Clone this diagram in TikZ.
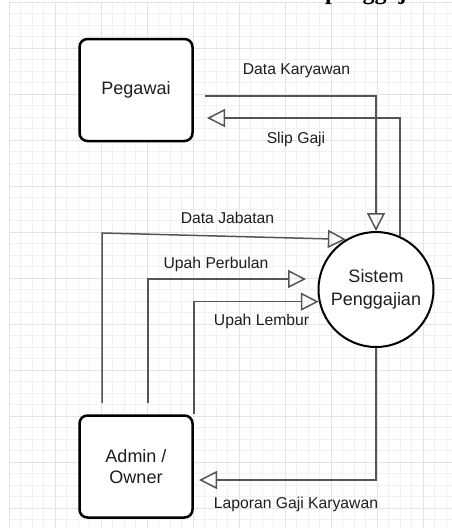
\documentclass[tikz,border=0pt]{standalone}
\usepackage{fontspec}
\setmainfont{Liberation Sans}
\newfontfamily\titlefont{Liberation Serif}
\usetikzlibrary{arrows.meta}
\definecolor{minorc}{HTML}{F1F1F1}
\definecolor{majorc}{HTML}{E3E3E3}
\definecolor{linec}{HTML}{555555}
\definecolor{txtc}{HTML}{1E1E1E}
\begin{document}
\begin{tikzpicture}[x=1pt,y=-1pt,
  minorline/.style={draw=minorc, line width=0.8pt},
  majorline/.style={draw=majorc, line width=1pt},
  entity/.style={draw=black, line width=2.5pt, rounded corners=8pt, fill=white,
    minimum width=113pt, minimum height=102pt, inner sep=0pt, align=center,
    text=txtc, font=\fontsize{18}{21.6}\selectfont},
  process/.style={circle, draw=black, line width=2pt, fill=white, minimum size=115pt,
    inner sep=0pt, align=center, text=txtc, font=\fontsize{18}{22.4}\selectfont},
  flow/.style={draw=linec, line width=1.5pt,
    -{Triangle[open, length=18pt, width=18pt, line width=1.5pt]}},
  plainflow/.style={draw=linec, line width=1.5pt},
  flowlabel/.style={anchor=base, inner sep=0pt, text=txtc, font=\fontsize{15.7}{18}\selectfont}
]
\useasboundingbox (0,0) rectangle (452,531);
\fill[white] (0,0) rectangle (452,531);
% grid
\foreach \i in {0,...,38} { \draw[minorline] ({9+11.5*\i},2) -- ({9+11.5*\i},528); }
\foreach \j in {0,...,45} { \draw[minorline] (9,{2+11.5*\j}) -- (452,{2+11.5*\j}); }
\foreach \i in {0,...,9} { \draw[majorline] ({9+46*\i},2) -- ({9+46*\i},528); }
\foreach \j in {0,...,11} { \draw[majorline] (9,{2+46*\j}) -- (452,{2+46*\j}); }
% clipped title fragment
\begin{scope}
\clip (0,0) rectangle (452,531);
\node[anchor=base west, inner sep=0pt, font=\titlefont\bfseries\fontsize{24}{28}\selectfont] (ttl) at (325,-1) {penggajian};
\end{scope}
% nodes
\node[entity] (peg) at (136,90) {\raisebox{-1.5pt}{Pegawai}};
\node[entity] (adm) at (136,466.5) {Admin /\\Owner};
\node[process] (sis) at (376,289.5) {Sistem\\Penggajian};
% free ends
\coordinate (dk0) at (205,96);
\coordinate (sg1) at (207,118);
\coordinate (dj0) at (102,403);
\coordinate (up0) at (148,403);
\coordinate (upT) at (306,279);
\coordinate (lg1) at (199,480);
% connectors
\draw[flow] (dk0) -| (sis.north);
\draw[flow] (sis.66) |- (sg1);
\draw[flow] (dj0) -- (102,233) -- (sis.121.5);
\draw[flow] (up0) |- (upT);
\draw[flow] (adm.north east) |- (sis.192);
\draw[flow] (sis.south) |- (lg1);
% labels
\node[flowlabel] (l1) at (296.5,74.5) {Data Karyawan};
\node[flowlabel] (l2) at (296,143) {Slip Gaji};
\node[flowlabel] (l3) at (227.5,223) {Data Jabatan};
\node[flowlabel] (l4) at (216,268.5) {Upah Perbulan};
\node[flowlabel] (l5) at (261.5,325) {Upah Lembur};
\node[flowlabel] (l6) at (296,508) {Laporan Gaji Karyawan};
\end{tikzpicture}
\end{document}
